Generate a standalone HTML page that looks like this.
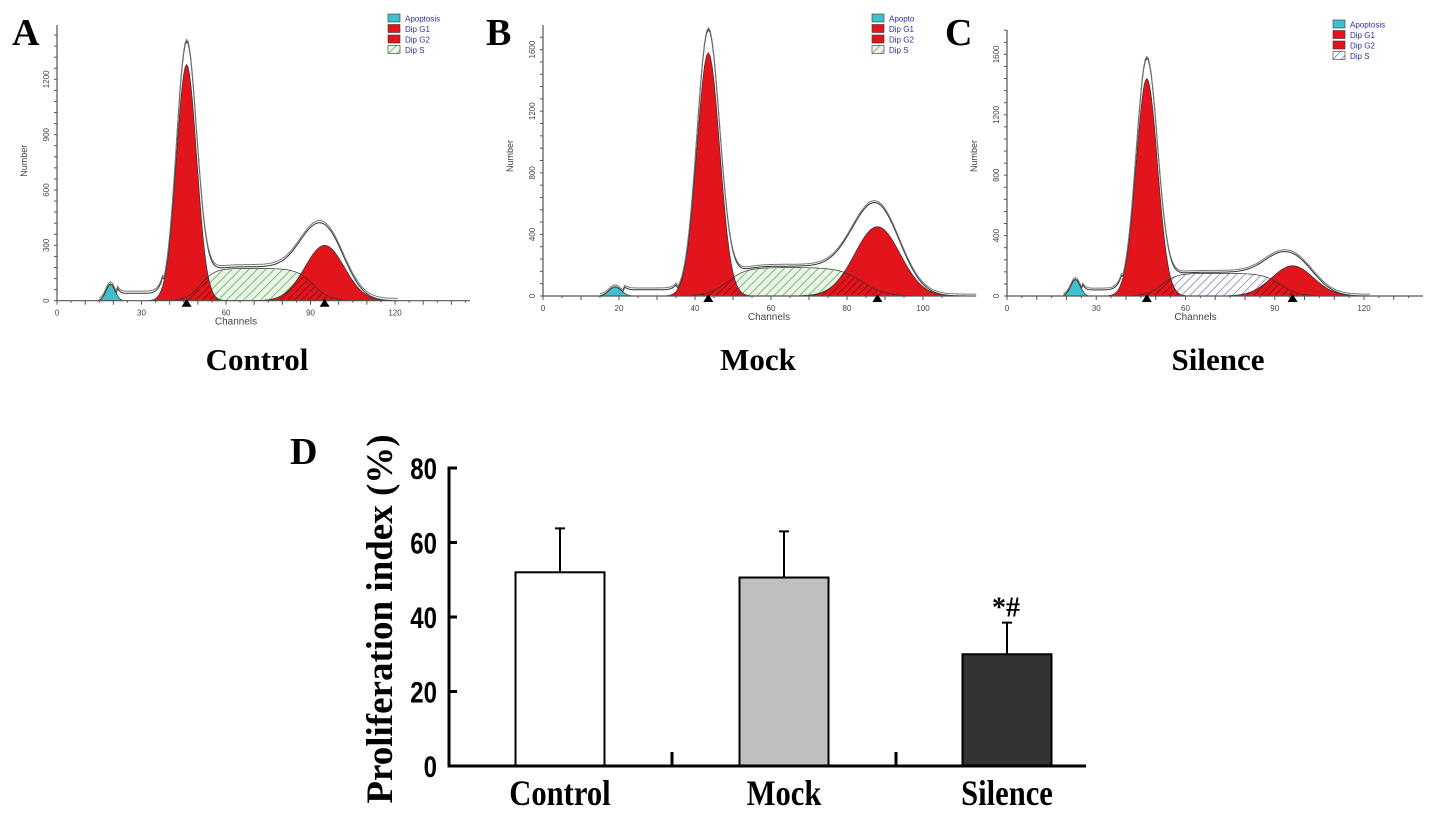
<!DOCTYPE html>
<html><head><meta charset="utf-8"><style>
body{margin:0;background:#fff;width:1441px;height:819px;overflow:hidden}
svg{position:absolute;left:0;top:0}
</style></head><body>
<svg id="fig" width="1441" height="819" viewBox="0 0 1441 819" xmlns="http://www.w3.org/2000/svg">
<defs>
<pattern id="hatchG" width="6" height="6" patternUnits="userSpaceOnUse" patternTransform="rotate(45)"><rect width="6" height="6" fill="#eaf6e6"/><line x1="0" y1="0" x2="0" y2="6" stroke="#6aa86a" stroke-width="1.6"/></pattern>
<pattern id="hatchB" width="6" height="6" patternUnits="userSpaceOnUse" patternTransform="rotate(45)"><rect width="6" height="6" fill="#fff"/><line x1="0" y1="0" x2="0" y2="6" stroke="#6a6ab8" stroke-width="1.4"/></pattern>
<pattern id="hatchR" width="5" height="5" patternUnits="userSpaceOnUse" patternTransform="rotate(45)"><rect width="5" height="5" fill="#e2141c"/><line x1="0" y1="0" x2="0" y2="5" stroke="#6a0a0a" stroke-width="1.3"/></pattern>
</defs>
<g id="hists"></g>
<g id="bars"></g>
</svg>
<script>
// ---- Histogram panel data ----
const panelLetters = ["A","B","C"];
const panelTitles = ["Control","Mock","Silence"];
const g1Pos = [46, 43.5, 47];
const g1Height = [1280, 1580, 1440];
const g2Pos = [95, 88, 96];
const g2Height = [300, 450, 200];
const sHeight = [175, 185, 150];
const apoPos = [19, 19, 23];
const apoHeight = [90, 60, 110];
const yTickLabels = [["0","300","600","900","1200"],["0","400","800","1200","1600"],["0","400","800","1200","1600"]];
const yTickValues = [[0,300,600,900,1200],[0,400,800,1200,1600],[0,400,800,1200,1600]];
const xTickValues = [[0,30,60,90,120],[0,20,40,60,80,100],[0,30,60,90,120]];
const legendS = ["Dip S","Dip S","Dip S"];
const legendApo = ["Apoptosis","Apopto","Apoptosis"];

// ---- Bar chart data ----
const categories = ["Control","Mock","Silence"];
const barValues = [52, 50.6, 30];
const errValues = [11.8, 12.4, 8.5];
const barTicks = [0,20,40,60,80];

const NS="http://www.w3.org/2000/svg";
function mk(parent,tag,attrs,text){const e=document.createElementNS(NS,tag);for(const k in attrs)e.setAttribute(k,attrs[k]);if(text!==undefined)e.textContent=text;parent.appendChild(e);return e;}

const geo=[
 {ox:57,oy:300.7,pxc:2.817,pyu:0.1845,xend:470,ytop:25,sig1:3.6,sig2:7,chMax:146,leg:[388,14]},
 {ox:543,oy:296,pxc:3.8,pyu:0.154,xend:958,ytop:25,sig1:3.0,sig2:6,chMax:109,leg:[872,14]},
 {ox:1007,oy:296,pxc:2.975,pyu:0.151,xend:1423,ytop:30,sig1:3.6,sig2:7,chMax:139,leg:[1333,20]}
];
const H=document.getElementById('hists');
function gauss(x,m,s,h){return h*Math.exp(-0.5*((x-m)/s)**2);}
function sig(x){return 1/(1+Math.exp(-x));}
for(let p=0;p<3;p++){
 const G=geo[p];
 const X=c=>G.ox+c*G.pxc, Y=v=>G.oy-v*G.pyu;
 const g=mk(H,'g',{});
 
 
 const comps={
  apo:c=>gauss(c,apoPos[p],1.6,apoHeight[p]),
  g1:c=>gauss(c,g1Pos[p],G.sig1,g1Height[p]),
  g2:c=>gauss(c,g2Pos[p],G.sig2,g2Height[p]),
  s:c=>sHeight[p]*sig((c-(g1Pos[p]+5))/2.5)*sig(((g2Pos[p]-4)-c)/3)
 };
 function area(f,fill,name,c0,c1){
  let d=`M${X(c0)},${Y(0)}`;
  for(let c=c0;c<=c1;c+=0.5)d+=` L${X(c).toFixed(1)},${Y(f(c)).toFixed(1)}`;
  d+=` L${X(c1)},${Y(0)}Z`;
  const e=mk(g,'path',{d,fill,stroke:'#333','stroke-width':0.7});
  
  
 }
 area(comps.s,p==2?'url(#hatchB)':'url(#hatchG)','s-phase-area',g1Pos[p]-10,g2Pos[p]+15);
 area(comps.g1,'#e2141c','g1-peak',g1Pos[p]-14,g1Pos[p]+14);
 area(comps.g2,'#e2141c','g2-peak',g2Pos[p]-24,g2Pos[p]+24);
 area(c=>Math.min(comps.s(c),Math.max(comps.g1(c),comps.g2(c))),'url(#hatchR)','s-overlap',g1Pos[p]-10,g2Pos[p]+15);
 area(comps.apo,'#3fc0cc','apoptosis-peak',apoPos[p]-4,apoPos[p]+4);
 for(let k=0;k<2;k++){
  let d='';
  for(let c=apoPos[p]-4;c<=g2Pos[p]+26;c+=0.5){
   let v=comps.apo(c)+comps.g1(c)*1.08+comps.g2(c)*1.25+comps.s(c)*1.05;
   if(c>apoPos[p]+2&&c<g1Pos[p]-8)v+=40;
   v+=k*12;
   d+=(d?' L':'M')+X(c).toFixed(1)+','+Y(v).toFixed(1);
  }
  const e=mk(g,'path',{d,fill:'none',stroke:k?'#777':'#333','stroke-width':1});
  
  
 }
 const ax=mk(g,'path',{d:`M${G.ox},${G.ytop} V${G.oy} H${G.xend}`,fill:'none',stroke:'#555','stroke-width':1.2});
 
 
 for(let c=0;c<=G.chMax;c+=5){mk(g,'line',{x1:X(c),x2:X(c),y1:G.oy,y2:G.oy+(c%10?2:4),stroke:'#555'});}
 xTickValues[p].forEach(v=>{const t=mk(g,'text',{x:X(v),y:G.oy+15,'font-size':8,'text-anchor':'middle',fill:'#444','font-family':'Liberation Sans, sans-serif'},String(v));});
 for(let v=0;v*G.pyu<G.oy-G.ytop;v+=(p==0?60:80)){mk(g,'line',{x1:G.ox-3,x2:G.ox,y1:Y(v),y2:Y(v),stroke:'#555'});}
 yTickValues[p].forEach((v,i)=>{const t=mk(g,'text',{x:G.ox-8,y:Y(v),'font-size':8,'text-anchor':'middle',fill:'#444','font-family':'Liberation Sans, sans-serif',transform:`rotate(-90 ${G.ox-8} ${Y(v)})`},yTickLabels[p][i]);});
 const xt=mk(g,'text',{x:X(60)+(p==1?-2:10),y:G.oy+24,'font-size':10,'text-anchor':'middle',fill:'#444','font-family':'Liberation Sans, sans-serif'},'Channels');
 
 const yt=mk(g,'text',{x:G.ox-30,y:G.oy-140,'font-size':9,'text-anchor':'middle',fill:'#444','font-family':'Liberation Sans, sans-serif',transform:`rotate(-90 ${G.ox-30} ${G.oy-140})`},'Number');
 
 [g1Pos[p],g2Pos[p]].forEach(c=>{const m=mk(g,'path',{d:`M${X(c)-5},${G.oy+6} L${X(c)+5},${G.oy+6} L${X(c)},${G.oy-2}Z`,fill:'#000'});});
 const [lx,ly]=G.leg;
 const lg=mk(g,'g',{});
 const items=[[legendApo[p],'#3fc0cc'],['Dip G1','#e2141c'],['Dip G2','#e2141c'],[legendS[p],p==2?'url(#hatchB)':'url(#hatchG)']];
 items.forEach((it,i)=>{mk(lg,'rect',{x:lx,y:ly+i*10.5,width:12,height:8,fill:it[1],stroke:'#333','stroke-width':0.6});mk(lg,'text',{x:lx+17,y:ly+i*10.5+7.5,'font-size':8,fill:'#3030a0','font-family':'Liberation Sans, sans-serif'},it[0]);});
 const L=mk(g,'text',{x:[12,486,945][p],y:45,'font-size':38,'font-weight':'bold','font-family':'Liberation Serif, serif'},panelLetters[p]);
 
 const T=mk(g,'text',{x:[257,758,1218][p],y:370,'font-size':31,'font-weight':'bold','text-anchor':'middle','font-family':'Liberation Serif, serif'},panelTitles[p]);
 
}

// ---- Bar chart ----
const B=document.getElementById('bars');
const bx0=449,by0=766,pyB=(766-468)/80,bw=89,centers=[560,784,1007];
const yB=v=>by0-v*pyB;
const fills=['#ffffff','#c0c0c0','#333333'];
categories.forEach((c,i)=>{
 const r=mk(B,'rect',{x:centers[i]-bw/2,y:yB(barValues[i]),width:bw,height:by0-yB(barValues[i]),fill:fills[i],stroke:'#000','stroke-width':2});
 
 const top=yB(barValues[i]+errValues[i]);
 const e=mk(B,'path',{d:`M${centers[i]},${yB(barValues[i])} V${top} M${centers[i]-5},${top} H${centers[i]+5}`,stroke:'#000','stroke-width':2,fill:'none'});
 
 const t=mk(B,'text',{x:centers[i]/0.85,y:805,'font-size':36,'font-weight':'bold','text-anchor':'middle','font-family':'Liberation Serif, serif',transform:'scale(0.85,1)'},c);
 
});
const axis=mk(B,'path',{d:`M${bx0+8},${yB(80)} H${bx0} V${by0} H1086 M672,${by0} V${by0-14} M896,${by0} V${by0-14}`,stroke:'#000','stroke-width':3,fill:'none'});

barTicks.forEach(v=>{
 mk(B,'line',{x1:bx0,x2:bx0+8,y1:yB(v),y2:yB(v),stroke:'#000','stroke-width':3});
 const t=mk(B,'text',{x:(bx0-12)/0.8,y:yB(v)+11,'font-size':30,'font-weight':'bold','text-anchor':'end','font-family':'Liberation Sans, sans-serif',transform:'scale(0.8,1)'},String(v));
 
});
const st=mk(B,'text',{x:1006,y:yB(barValues[2]+errValues[2])-6,'font-size':28,'font-weight':'bold','text-anchor':'middle','font-family':'Liberation Serif, serif'},'*#');

const yt=mk(B,'text',{x:392,y:619,'font-size':37,'font-weight':'bold','text-anchor':'middle','font-family':'Liberation Serif, serif',transform:'rotate(-90 392 619)'},'Proliferation index (%)');

const D=mk(B,'text',{x:290,y:464,'font-size':38,'font-weight':'bold','font-family':'Liberation Serif, serif'},'D');

</script>
</body></html>
